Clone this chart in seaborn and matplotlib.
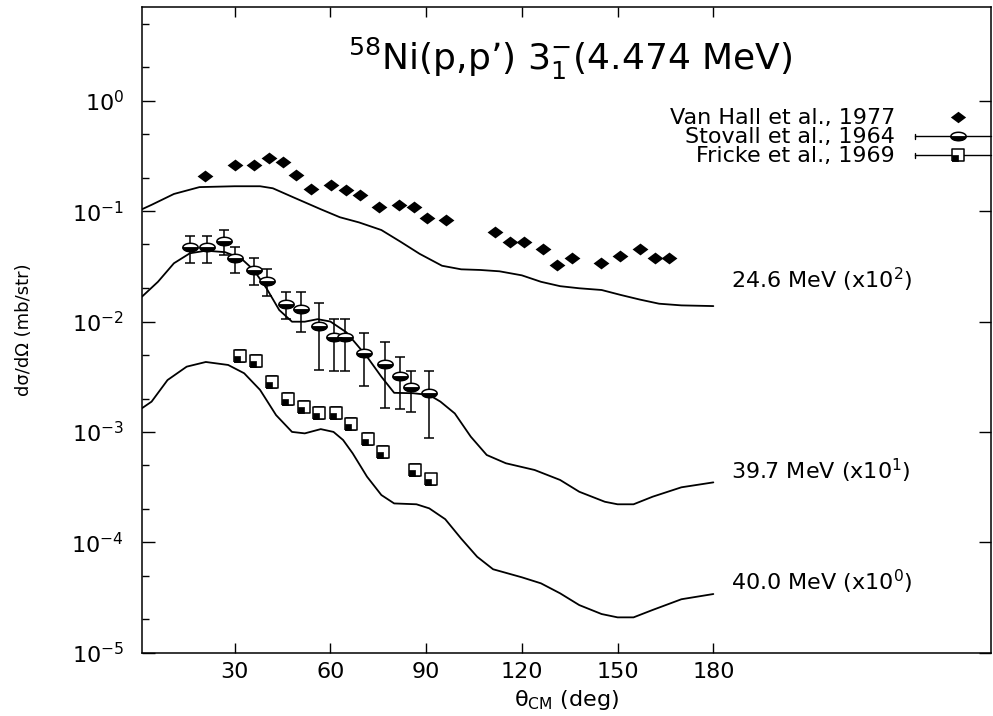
import numpy as np
import pandas as pd
import matplotlib
matplotlib.use("Agg")
import matplotlib.pyplot as plt
import seaborn as sns
from matplotlib import ticker
from matplotlib.path import Path

# theory curves (already multiplied by the scale factor in the label)
theta_246 = [1, 4, 11, 19, 30, 38, 42, 48, 57, 63, 69, 76, 82, 88, 95, 101, 107,
             113, 120, 126, 132, 138, 145, 151, 157, 163, 170, 180]
xs_246 = [0.104, 0.114, 0.143, 0.165, 0.168, 0.168, 0.161, 0.135, 0.104, 0.088,
          0.079, 0.0674, 0.0528, 0.041, 0.032, 0.0297, 0.0293, 0.0285, 0.0262,
          0.0229, 0.0209, 0.0200, 0.0193, 0.0174, 0.0158, 0.0145, 0.0140, 0.0138]

theta_397 = [1, 6, 11, 16, 21, 27, 32, 36, 40, 44, 48, 52, 56, 60, 65, 71.5, 76, 80,
             86, 91, 94.5, 99, 104, 109, 115, 124, 132, 138, 146, 150, 155, 161, 170, 180]
xs_397 = [0.0168, 0.0229, 0.0337, 0.0415, 0.0438, 0.0425, 0.0374, 0.0293, 0.0200,
          0.0127, 0.00996, 0.00996, 0.0105, 0.0100, 0.0080, 0.0048, 0.00316, 0.00226,
          0.00224, 0.00216, 0.00188, 0.00147, 0.000906, 0.000618, 0.00052, 0.000452,
          0.000367, 0.000287, 0.000233, 0.000221, 0.000221, 0.000259, 0.000315, 0.000349]

theta_400 = [1, 4, 9, 15, 21, 28, 33, 38, 43, 48, 52, 57, 61, 64, 67, 71.5, 76, 80, 87,
             91, 96, 101, 106, 111, 120, 126, 132, 138, 145, 150, 155, 161, 170, 180]
xs_400 = [0.00164, 0.00188, 0.00295, 0.0039, 0.0043, 0.00404, 0.0034, 0.0024, 0.00142,
          0.00100, 0.00097, 0.00106, 0.00100, 0.000845, 0.00064, 0.000393, 0.000268,
          0.000225, 0.000221, 0.000203, 0.000162, 0.000108, 7.4e-5, 5.7e-5, 4.82e-5,
          4.25e-5, 3.45e-5, 2.7e-5, 2.24e-5, 2.09e-5, 2.09e-5, 2.44e-5, 3.05e-5, 3.40e-5]

# data
vanhall_theta = [20.8, 30.0, 36.0, 40.7, 45.2, 49.3, 53.9, 60.2, 64.9, 69.2, 75.3, 81.4,
                 86.1, 90.3, 96.4, 111.6, 116.2, 120.8, 126.7, 131.1, 135.8, 144.7,
                 150.7, 156.9, 161.7, 166.1]
vanhall_xs = [0.208, 0.263, 0.263, 0.301, 0.277, 0.211, 0.160, 0.171, 0.154, 0.139,
              0.110, 0.114, 0.110, 0.0871, 0.083, 0.0643, 0.0522, 0.0522, 0.0457,
              0.0325, 0.0374, 0.0341, 0.0392, 0.0451, 0.0376, 0.0376]

stovall_theta = [16.1, 21.3, 26.6, 30.0, 36.0, 40.3, 46.2, 50.8, 56.3, 61.0, 64.7,
                 70.4, 77.0, 81.9, 85.4, 90.8]
stovall_xs = [0.047, 0.047, 0.054, 0.0374, 0.0293, 0.0231, 0.0144, 0.0130, 0.0091,
              0.00719, 0.00719, 0.00521, 0.00409, 0.00323, 0.00257, 0.00224]
stovall_lo = [0.0339, 0.0339, 0.040, 0.0277, 0.0214, 0.0170, 0.0105, 0.00798, 0.00364,
              0.00358, 0.00358, 0.00261, 0.00164, 0.00161, 0.00152, 0.000886]
stovall_hi = [0.0598, 0.0598, 0.068, 0.047, 0.0374, 0.0297, 0.0186, 0.0186, 0.0146,
              0.0106, 0.0106, 0.00782, 0.00656, 0.00481, 0.00358, 0.00358]

fricke_theta = [31.8, 36.8, 41.7, 46.7, 51.6, 56.6, 61.8, 66.6, 71.7, 76.6, 86.6, 91.7]
fricke_xs = [0.00487, 0.00439, 0.00285, 0.00197, 0.00169, 0.00148, 0.00148, 0.00119,
             0.000857, 0.000662, 0.000452, 0.000372]
fricke_lo = [0.00431, 0.00388, 0.00252, 0.00174, 0.00150, 0.00131, 0.00131, 0.00105,
             0.000758, 0.000586, 0.000400, 0.000329]
fricke_hi = [0.00550, 0.00496, 0.00322, 0.00223, 0.00191, 0.00167, 0.00167, 0.00134,
             0.000968, 0.000748, 0.000511, 0.000420]

curve_labels = ["24.6 MeV (x10$^2$)", "39.7 MeV (x10$^1$)", "40.0 MeV (x10$^0$)"]
curve_label_y = [0.0200, 3.72e-4, 3.70e-5]
legend_labels = ["Van Hall et al., 1977", "Stovall et al., 1964", "Fricke et al., 1969"]

sns.set_style("ticks")
# the original is a horizontally stretched gnuplot page, a wide sans gets closest
plt.rcParams['font.family'] = ['DejaVu Sans']
plt.rcParams['mathtext.fontset'] = 'dejavusans'
plt.rcParams['axes.unicode_minus'] = False
for k in ['text.color', 'axes.labelcolor', 'xtick.color', 'ytick.color', 'axes.edgecolor']:
    plt.rcParams[k] = 'black'

FS = 16

# marker shapes
t = np.linspace(0, 2 * np.pi, 61)
ellipse = Path(np.c_[np.cos(t), 0.55 * np.sin(t)])
tb = np.linspace(np.pi, 2 * np.pi, 31)
half_ell = Path(np.vstack([np.c_[np.cos(tb), 0.55 * np.sin(tb)], [[-1, 0]]]))
diamond = Path([(-1, 0), (0, 0.75), (1, 0), (0, -0.75), (-1, 0)])
square = Path([(-1, -1), (1, -1), (1, 1), (-1, 1), (-1, -1)])
quad = Path([(-1, -1), (0, -1), (0, 0), (-1, 0), (-1, -1)])

fig = plt.figure(figsize=(9.93, 7.16), dpi=100)
ax = fig.add_axes([0.143, 0.0884, 0.855, 0.9018])

for th, val in [(theta_246, xs_246), (theta_397, xs_397), (theta_400, xs_400)]:
    sns.lineplot(x=th, y=val, ax=ax, color="black", linewidth=1.3, estimator=None)

sns.scatterplot(x=vanhall_theta, y=vanhall_xs, ax=ax, marker=diamond, s=130,
                color="black", linewidth=0)

def draw_errors(th, val, lo, hi):
    val = np.array(val)
    err = [val - np.array(lo), np.array(hi) - val]
    ax.errorbar(th, val, yerr=err, fmt="none", ecolor="black", elinewidth=1.1,
                capsize=3.5, capthick=1.1)

draw_errors(stovall_theta, stovall_xs, stovall_lo, stovall_hi)
draw_errors(fricke_theta, fricke_xs, fricke_lo, fricke_hi)

def stovall_marker(x, y, **kw):
    ax.plot(x, y, ls="none", marker=ellipse, ms=11, mfc="white", mec="black", mew=1.1,
            **kw)
    ax.plot(x, y, ls="none", marker=half_ell, ms=11, mfc="black", mec="black", mew=0.6,
            **kw)

def fricke_marker(x, y, **kw):
    ax.plot(x, y, ls="none", marker=square, ms=8, mfc="white", mec="black", mew=1.1, **kw)
    ax.plot(x, y, ls="none", marker=quad, ms=8, mfc="black", mec="black", mew=0.5, **kw)

stovall_marker(stovall_theta, stovall_xs)
fricke_marker(fricke_theta, fricke_xs)

ax.set_yscale("log")
ax.set_xlim(1, 267)
ax.set_ylim(1e-5, 7.06)
ax.set_xticks([30, 60, 90, 120, 150, 180])
ax.yaxis.set_major_locator(ticker.LogLocator(base=10, numticks=10))
ax.yaxis.set_minor_locator(ticker.LogLocator(base=10, subs=(2, 5), numticks=10))
ax.yaxis.set_minor_formatter(ticker.NullFormatter())

ax.tick_params(axis="x", which="major", direction="in", top=True, length=7, width=1,
               labelsize=FS, pad=7)
ax.tick_params(axis="y", which="major", direction="in", left=True, right=True, length=9,
               width=1, labelsize=FS, pad=13)
ax.tick_params(axis="y", which="minor", direction="in", left=True, right=False, length=5,
               width=1)
for sp in ax.spines.values():
    sp.set_visible(True)
    sp.set_linewidth(1.1)

ax.set_xlabel("θ$_{\\mathrm{CM}}$ (deg)", fontsize=FS, va="top")
ax.xaxis.set_label_coords(0.5, -0.055)
ax.set_ylabel("dσ/dΩ (mb/str)", fontsize=13)
ax.yaxis.set_label_coords(-0.128, 0.5)

ax.text(0.504, 0.9024, "$^{58}$Ni(p,p’) 3$_1^{-}$(4.474 MeV)", transform=ax.transAxes,
        ha="center", va="baseline", fontsize=26)

for lab, yv in zip(curve_labels, curve_label_y):
    ax.text(185.5, yv, lab, ha="left", va="baseline", fontsize=FS)

# gnuplot-style key
key_y = [0.8296, 0.800, 0.7706]
for i, (lab, ky) in enumerate(zip(legend_labels, key_y)):
    ax.text(0.887, ky - 0.0108, lab, transform=ax.transAxes, ha="right", va="baseline",
            fontsize=FS)
    if i > 0:
        ax.plot([0.910, 1.0], [ky, ky], transform=ax.transAxes, color="black", lw=1.0,
                clip_on=False)
        ax.plot([0.910, 0.910], [ky - 0.004, ky + 0.004], transform=ax.transAxes,
                color="black", lw=1.0, clip_on=False)
kx = [0.961]
ax.plot(kx, [key_y[0]], transform=ax.transAxes, ls="none", marker=diamond, ms=11,
        mfc="black", mec="black", mew=0)
stovall_marker(kx, [key_y[1]], transform=ax.transAxes)
fricke_marker(kx, [key_y[2]], transform=ax.transAxes)

fig.savefig("out.png", dpi=100)
